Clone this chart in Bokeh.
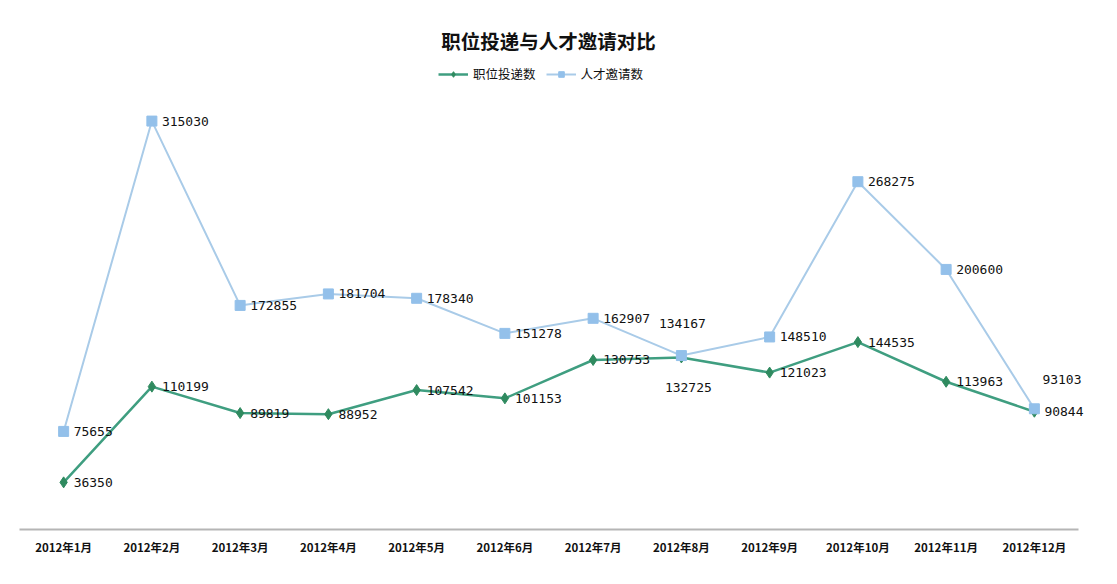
from bokeh.plotting import figure
from bokeh.models import (ColumnDataSource, Range1d, Legend, LegendItem, LabelSet, Label,
                          FixedTicker)
from bokeh.core.properties import value
from bokeh.embed import file_html
from bokeh.resources import INLINE

months = ["2012年1月", "2012年2月", "2012年3月", "2012年4月", "2012年5月", "2012年6月",
          "2012年7月", "2012年8月", "2012年9月", "2012年10月", "2012年11月", "2012年12月"]
jobs = [36350, 110199, 89819, 88952, 107542, 101153, 130753, 132725, 121023, 144535, 113963, 90844]
invites = [75655, 315030, 172855, 181704, 178340, 151278, 162907, 134167, 148510, 268275, 200600, 93103]

FONT = "Noto Sans CJK SC"
NUM_FONT = "DejaVu Sans Mono"
GREEN_LINE = "#3f9e80"
GREEN_MARK = "#2f8a5f"
BLUE_LINE = "#a9cbe8"
BLUE_MARK = "#93c0ea"

xs = list(range(len(months)))

# frame is taller than the 0..350000 band so that title and legend sit inside it,
# and wider than the category band so that the last labels are not clipped
FRAME_H = 517
Y_TOP = 350000 * FRAME_H / 452
FRAME_W = 1101 - 19 - 6
X_END = -0.5 + FRAME_W / 88.25

p = figure(x_range=Range1d(-0.5, X_END), y_range=Range1d(0, Y_TOP),
           width=1101, height=557, output_backend="svg", toolbar_location=None,
           min_border_left=19, min_border_right=6, min_border_top=10, min_border_bottom=10)

src = ColumnDataSource(dict(x=xs, jobs=jobs, inv=invites))

l1 = p.line("x", "jobs", source=src, line_color=GREEN_LINE, line_width=2.5)
s1 = p.scatter("x", "jobs", source=src, marker="diamond", size=11, fill_color=GREEN_MARK, line_color=GREEN_MARK)
l2 = p.line("x", "inv", source=src, line_color=BLUE_LINE, line_width=2)
s2 = p.scatter("x", "inv", source=src, marker="square", size=10, fill_color=BLUE_MARK, line_color=BLUE_MARK)

# label placement groups: (series, index list, x_offset, y_offset, align)
AUG, DEC = 7, 11
groups = [
    (jobs, [i for i in xs if i != AUG], 10, 0, "left"),
    (invites, [i for i in xs if i not in (AUG, DEC)], 10, 0, "left"),
    (invites, [AUG], 1, 32, "center"),
    (jobs, [AUG], 7, -30, "center"),
    (invites, [DEC], 8, 29, "left"),
]
for series, idx, dx, dy, al in groups:
    s = ColumnDataSource(dict(x=idx, v=[series[i] for i in idx],
                              t=[str(series[i]) for i in idx]))
    p.add_layout(LabelSet(x="x", y="v", text="t", source=s, x_offset=dx, y_offset=dy,
                          text_align=al, text_baseline="middle",
                          text_font=value(NUM_FONT), text_font_size="13px", text_color="#111111"))

# title
p.add_layout(Label(x=529, y=489, x_units="screen", y_units="screen", text="职位投递与人才邀请对比",
                   text_align="center", text_baseline="middle", text_font=FONT,
                   text_font_size="19.5px", text_font_style="bold", text_color="#111111"))

legend = Legend(items=[LegendItem(label="职位投递数", renderers=[l1, s1]),
                       LegendItem(label="人才邀请数", renderers=[l2, s2])],
                orientation="horizontal", location=(419, 446),
                label_text_font=FONT, label_text_font_size="12.5px", label_text_color="#111111",
                glyph_width=30, glyph_height=14, spacing=10, padding=2, margin=0,
                border_line_color=None, background_fill_alpha=0)
p.add_layout(legend)

p.yaxis.visible = False
p.xgrid.grid_line_color = None
p.ygrid.grid_line_color = None
p.outline_line_color = None
p.xaxis.ticker = FixedTicker(ticks=xs)
p.xaxis.major_label_overrides = {i: m for i, m in zip(xs, months)}
p.xaxis.bounds = (-0.5, len(months) - 0.5)
p.xaxis.axis_line_color = "#b5b5b5"
p.xaxis.axis_line_width = 2
p.xaxis.major_tick_line_color = None
p.xaxis.minor_tick_line_color = None
p.xaxis.major_label_text_font = FONT
p.xaxis.major_label_text_font_size = "11.5px"
p.xaxis.major_label_text_font_style = "bold"
p.xaxis.major_label_text_color = "#111111"
p.xaxis.major_label_standoff = 3

open("out.html", "w").write(file_html(p, INLINE))
